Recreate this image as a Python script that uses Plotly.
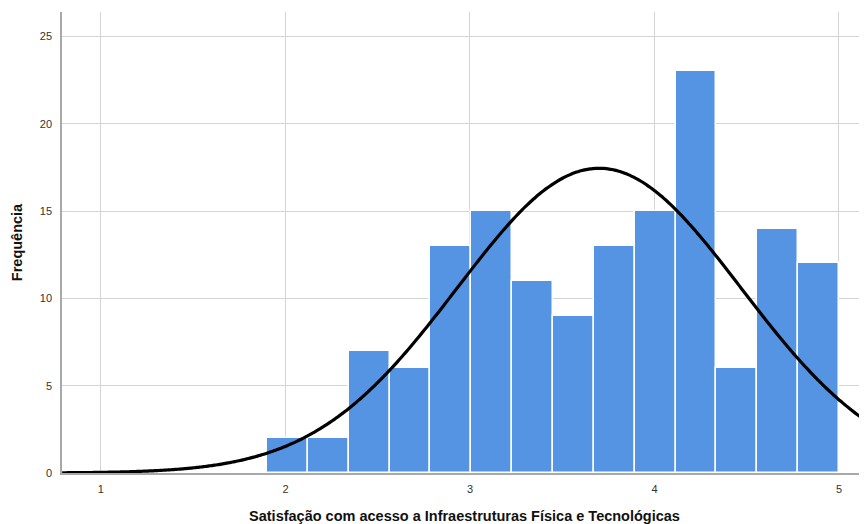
import numpy as np
import plotly.graph_objects as go

# Histogram data (frequency per bin)
bin_start = 1.9
bin_end = 5.0
freqs = [2, 2, 7, 6, 13, 15, 11, 9, 13, 15, 23, 6, 14, 12]
# Fitted normal curve parameters (as drawn by SPSS)
curve_mean = 3.70
curve_sd = 0.77
curve_peak = 17.45

x_ticks = [1, 2, 3, 4, 5]
y_ticks = [0, 5, 10, 15, 20, 25]

n_bins = len(freqs)
bin_width = (bin_end - bin_start) / n_bins
centers = [bin_start + bin_width * (i + 0.5) for i in range(n_bins)]

xs = np.linspace(0.79, 5.2, 300)
ys = curve_peak * np.exp(-0.5 * ((xs - curve_mean) / curve_sd) ** 2)

fig = go.Figure()
fig.add_trace(go.Bar(
    x=centers, y=freqs, width=[bin_width] * n_bins,
    marker=dict(color="#5594e3", line=dict(color="white", width=1.5)),
    hoverinfo="x+y",
))
fig.add_trace(go.Scatter(
    x=xs, y=ys, mode="lines",
    line=dict(color="black", width=3.2, shape="spline"),
))

# The page body has an 8px default margin; size the figure so it fills the window exactly
fig.update_layout(
    width=859, height=516,
    margin=dict(l=54, r=0, t=4, b=51),
    paper_bgcolor="white", plot_bgcolor="white",
    showlegend=False, bargap=0,
    font=dict(family="Liberation Sans, Arial, sans-serif", color="#222"),
)
fig.update_xaxes(
    range=[0.789, 5.152], tickvals=x_ticks, ticktext=[str(v) for v in x_ticks],
    showgrid=True, gridcolor="#d4d4d4", gridwidth=1,
    showline=True, linecolor="#a8a8a8", linewidth=1.5,
    zeroline=False, tickfont=dict(size=11, color="#333"), ticklabelstandoff=5,
    automargin=False,
    title=dict(text="<b>Satisfação com acesso a Infraestruturas Física e Tecnológicas</b>",
               font=dict(size=14.5, color="#111"), standoff=17),
)
fig.update_yaxes(
    range=[0, 26.4], tickvals=y_ticks, ticktext=[str(v) for v in y_ticks],
    showgrid=True, gridcolor="#d4d4d4", gridwidth=1,
    showline=True, linecolor="#a8a8a8", linewidth=1.5,
    zeroline=False, tickfont=dict(size=11, color="#333"), ticklabelstandoff=6,
    automargin=False,
    title=dict(text="<b>Frequência</b>", font=dict(size=14.5, color="#111"), standoff=14),
)

fig.write_html("out.html")
